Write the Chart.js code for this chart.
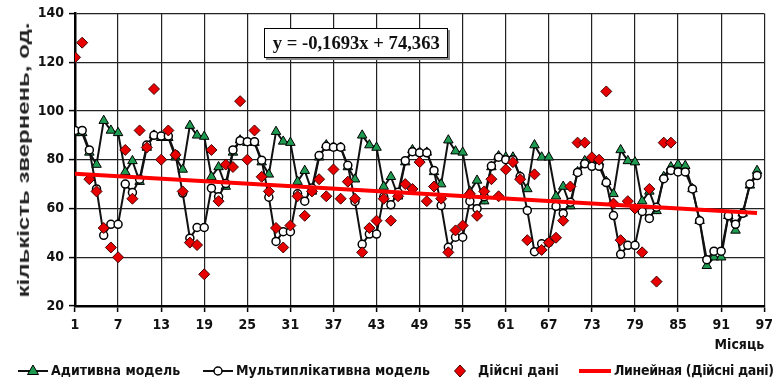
<!DOCTYPE html>
<html>
<head>
<meta charset="utf-8">
<script src="https://cdn.jsdelivr.net/npm/chart.js@4"></script>
<style>
  html, body { margin: 0; padding: 0; background: #fff; }
  #wrap { position: relative; width: 778px; height: 382px; overflow: hidden; }
  #c { position: absolute; left: 0; top: 0; }
  #eq {
    position: absolute; left: 264px; top: 28px; width: 182px; height: 28px;
    border: 1.5px solid #000; background: #fff; box-shadow: 2px 2px 0 #888;
    font-family: 'Liberation Serif', 'DejaVu Serif', serif; font-weight: bold;
    font-size: 19px; color: #111; line-height: 28px; text-align: center; white-space: nowrap;
  }
  #eq span { display: inline-block; transform: scaleX(0.98); transform-origin: center; }
  #ytitle {
    position: absolute; left: 23px; top: 160px; width: 0; height: 0;
  }
  #ytitle span {
    position: absolute; left: 0; top: 0; white-space: nowrap;
    font-family: 'Liberation Sans', 'DejaVu Sans', sans-serif; font-weight: bold; font-size: 24px; color: #222;
    transform: translate(-50%, -50%) rotate(-90deg) scaleY(0.72);
    line-height: 24px;
  }
  #legend {
    position: absolute; left: 0; top: 360px; width: 778px; height: 20px;
    font-family: 'Liberation Sans Narrow', 'DejaVu Sans Condensed', sans-serif;
    font-weight: bold; font-size: 14px; color: #111;
  }
  .li { position: absolute; top: 0; display: flex; align-items: center; height: 20px; white-space: nowrap; }
  .li svg { margin-right: 3px; }
</style>
</head>
<body>
<div id="wrap">
  <canvas id="c" width="778" height="382"></canvas>
  <div id="eq"><span>y = -0,1693x + 74,363</span></div>
  <div id="ytitle"><span id="yt"></span></div>
  <div id="legend">
    <div class="li" style="left:18px"><svg width="30" height="14"><line x1="0" y1="8" x2="30" y2="8" stroke="#111" stroke-width="2"/><polygon points="15,2 20.5,11.5 9.5,11.5" fill="#1e9b50" stroke="#000" stroke-width="1"/></svg><span id="l0"></span></div>
    <div class="li" style="left:203px"><svg width="30" height="14"><line x1="0" y1="8" x2="30" y2="8" stroke="#111" stroke-width="2"/><circle cx="15" cy="8" r="4" fill="#fff" stroke="#000" stroke-width="1.5"/></svg><span id="l1"></span></div>
    <div class="li" style="left:450px"><svg width="20" height="14"><polygon points="10,2 15.5,8 10,14 4.5,8" fill="#e80000" stroke="#400" stroke-width="1"/></svg><span id="l2" style="margin-left:5px"></span></div>
    <div class="li" style="left:579px"><svg width="32" height="14"><line x1="0" y1="8" x2="32" y2="8" stroke="#ff0000" stroke-width="4"/></svg><span id="l3" style="letter-spacing:-0.35px"></span></div>
  </div>
</div>
<script>
// ---------- data ----------
const seriesNames = ['Адитивна модель', 'Мультиплікативна модель', 'Дійсні дані', 'Линейная (Дійсні дані)'];
const xTitle = 'Місяць';
const yTitle = 'кількість звернень, од.';
const xTicks = [1, 7, 13, 19, 25, 31, 37, 43, 49, 55, 61, 67, 73, 79, 85, 91, 97];
const yTicks = [20, 40, 60, 80, 100, 120, 140];

// months 1..96
const additive = [
  91, 91, 83, 78, 96, 92, 91, 75, 79.5, 71, 85, 90,
  89, 89, 81, 76, 94, 90, 89.5, 73, 77, 69, 83, 88,
  87, 87, 79, 74, 91.5, 87.5, 87, 71, 75.5, 67, 81, 86,
  85, 85, 77, 72, 90, 86, 85, 69, 73, 65, 79, 84,
  83, 83, 75, 70, 88, 83.5, 83, 67, 71.5, 63, 77, 81.5,
  81, 81, 73, 68, 86, 81, 81, 65, 69, 61, 75, 79.5,
  79, 79, 71, 66, 84, 79.5, 79, 63, 67, 59, 73, 77,
  78, 77.5, 68, 55, 36.5, 40, 40, 57, 51, 58, 69.5, 75.5
];
const multiplicative = [
  92, 92, 84, 68, 49, 53.5, 53.5, 70, 66.5, 72, 86, 90,
  89.7, 89.7, 82, 66.3, 47.8, 52.2, 52.2, 68.3, 64.8, 70.2, 84, 87.8,
  87.4, 87.4, 79.8, 64.6, 46.5, 50.5, 50.5, 66, 63, 68.4, 81.7, 85.5,
  85.1, 85.1, 77.7, 62.9, 45.3, 49.5, 49.5, 64.8, 61.5, 66.6, 79.6, 83.3,
  82.8, 82.8, 75.6, 61.2, 44.1, 48.2, 48.2, 63, 59.9, 64.8, 77.4, 81,
  80, 80, 73.1, 59.2, 42.3, 45.5, 46, 60.9, 57.9, 62.6, 74.8, 78.3,
  77.3, 77.3, 70.6, 57.1, 41.2, 44.9, 44.9, 58.8, 55.9, 60.5, 72.2, 75.6,
  75, 75, 68, 55, 39, 42.5, 42.5, 57, 53.5, 58, 70, 73.5
];
// months 1..84
const actual = [
  122, 128, 72, 67, 52, 44, 40, 84, 64, 92, 85, 109,
  80, 92, 82, 67, 46, 45, 33, 84, 63, 78, 77, 104,
  80, 92, 73, 67, 52, 44, 53, 65, 57, 67, 72, 65,
  76, 64, 71, 64, 42, 52, 55, 64, 55, 65, 70, 68,
  79, 63, 69, 64, 42, 51, 53, 66, 57, 67, 72, 65,
  76, 79, 72, 47, 74, 43, 46, 48, 55, 69, 87, 87,
  81, 80, 108, 62, 47, 63, 60, 42, 68, 30, 87, 87
];
// trend line end points (month, value)
const trendX = [1, 96];
const trendY = [74.19, 58.11];

// ---------- chart ----------
const FONT = "'Liberation Sans Narrow', 'DejaVu Sans Condensed', sans-serif";
['l0','l1','l2','l3'].forEach((id, i) => document.getElementById(id).textContent = seriesNames[i]);
document.getElementById('yt').textContent = yTitle;

const toXY = arr => arr.map((v, i) => ({ x: i + 1, y: v }));

new Chart(document.getElementById('c'), {
  type: 'line',
  data: {
    datasets: [
      {
        label: seriesNames[0], data: toXY(additive), order: 3,
        borderColor: '#111', borderWidth: 2, tension: 0,
        pointStyle: 'triangle', pointRadius: 5.5, pointBackgroundColor: '#1e9b50',
        pointBorderColor: '#000', pointBorderWidth: 1
      },
      {
        label: seriesNames[1], data: toXY(multiplicative), order: 2,
        borderColor: '#111', borderWidth: 2, tension: 0,
        pointStyle: 'circle', pointRadius: 4, pointBackgroundColor: '#fff',
        pointBorderColor: '#000', pointBorderWidth: 1.5
      },
      {
        label: seriesNames[2], data: toXY(actual), order: 1, showLine: false,
        pointStyle: 'rectRot', pointRadius: 5.5, pointBackgroundColor: '#e80000',
        pointBorderColor: '#400', pointBorderWidth: 1
      },
      {
        label: seriesNames[3], data: trendX.map((x, i) => ({ x, y: trendY[i] })), order: 0,
        borderColor: '#ff0000', borderWidth: 4, pointRadius: 0, tension: 0
      }
    ]
  },
  options: {
    responsive: false, animation: false, devicePixelRatio: 1,
    layout: { padding: { top: 13, right: 10, left: 0, bottom: 0 } },
    plugins: { legend: { display: false }, tooltip: { enabled: false } },
    scales: {
      x: {
        type: 'linear', min: xTicks[0], max: xTicks[xTicks.length - 1],
        afterBuildTicks: s => { s.ticks = xTicks.map(v => ({ value: v })); },
        afterFit: s => { s.height = 76; },
        ticks: { font: { family: FONT, size: 14, weight: 'bold' }, color: '#111', maxRotation: 0, autoSkip: false, padding: 5 },
        grid: { color: '#222', lineWidth: 1.2, borderDash: [5, 4], tickLength: 6, tickColor: '#000', tickWidth: 1.5, tickBorderDash: [] },
        border: { display: true, color: '#000', width: 2.5 },
        title: { display: true, text: xTitle, align: 'end', font: { family: FONT, size: 14, weight: 'bold' }, color: '#111', padding: { top: 0, bottom: 28 } }
      },
      y: {
        min: yTicks[0], max: yTicks[yTicks.length - 1],
        afterBuildTicks: s => { s.ticks = yTicks.map(v => ({ value: v })); },
        afterFit: s => { s.width = 75; },
        ticks: { font: { family: FONT, size: 14, weight: 'bold' }, color: '#111', padding: 5 },
        grid: { color: '#222', lineWidth: 1.2, borderDash: [5, 4], tickLength: 6, tickColor: '#000', tickWidth: 1.5, tickBorderDash: [] },
        border: { display: true, color: '#000', width: 2.5 },
        title: { display: false }
      }
    }
  }
});
</script>
</body>
</html>
